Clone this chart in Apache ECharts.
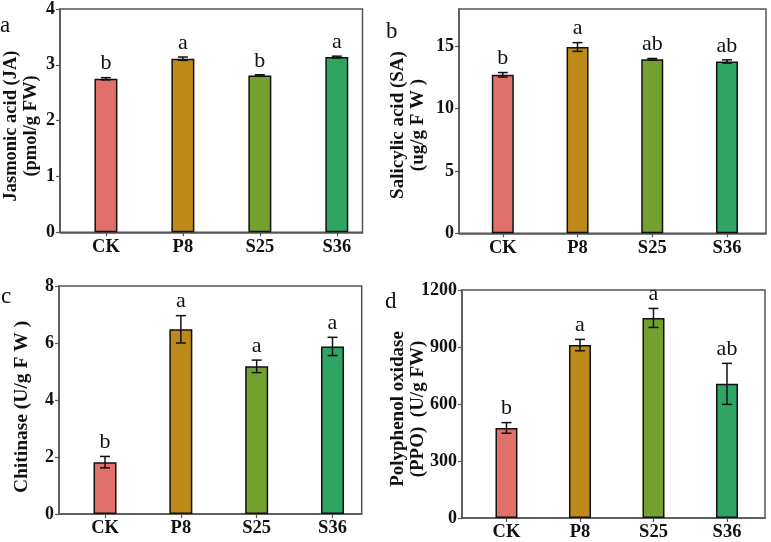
<!DOCTYPE html>
<html>
<head>
<meta charset="utf-8">
<script src="https://cdn.jsdelivr.net/npm/echarts@6/dist/echarts.min.js"></script>
<style>
html,body{margin:0;padding:0;background:#fff;}
#chart{width:771px;height:542px;}
</style>
</head>
<body>
<div id="chart"></div>
<script>
// ---- data ----
const categories = ['CK', 'P8', 'S25', 'S36'];
const barColors = ['#E17068', '#BE8B1A', '#74A030', '#2EA563'];

const jaMean = [2.75, 3.11, 2.81, 3.14];
const jaErr = [0.02, 0.03, 0.012, 0.015];
const jaLetters = ['b', 'a', 'b', 'a'];
const jaTicks = [0, 1, 2, 3, 4];

const saMean = [12.72, 14.95, 13.96, 13.79];
const saErr = [0.18, 0.35, 0.07, 0.13];
const saLetters = ['b', 'a', 'ab', 'ab'];
const saTicks = [0, 5, 10, 15];

const chiMean = [1.82, 6.48, 5.18, 5.88];
const chiErr = [0.2, 0.48, 0.22, 0.32];
const chiLetters = ['b', 'a', 'a', 'a'];
const chiTicks = [0, 2, 4, 6, 8];

const ppoMean = [474, 910, 1053, 706];
const ppoErr = [28, 30, 50, 108];
const ppoLetters = ['b', 'a', 'a', 'ab'];
const ppoTicks = [0, 300, 600, 900, 1200];

// ---- layout / style ----
const FONT = '"Liberation Serif", "Times New Roman", serif';
const AX = '#555';
const INK = '#111';

const panels = [
  {mean: jaMean, err: jaErr, letters: jaLetters, ticks: jaTicks, ymax: 4,
   grid: {left: 60, top: 7, width: 302.5, height: 225.3}, xmin: 0.403, xmax: 4.334, bw: 23},
  {mean: saMean, err: saErr, letters: saLetters, ticks: saTicks, ymax: 18,
   grid: {left: 459, top: 9, width: 307, height: 224.3}, xmin: 0.414, xmax: 4.522, bw: 22},
  {mean: chiMean, err: chiErr, letters: chiLetters, ticks: chiTicks, ymax: 8,
   grid: {left: 59, top: 286, width: 302.7, height: 228}, xmin: 0.393, xmax: 4.385, bw: 23},
  {mean: ppoMean, err: ppoErr, letters: ppoLetters, ticks: ppoTicks, ymax: 1200,
   grid: {left: 462, top: 290, width: 303, height: 229.3}, xmin: 0.395, xmax: 4.517, bw: 22}
];

const grids = [], xAxes = [], yAxes = [], series = [];
const xPos = categories.map((c, i) => i + 1);

panels.forEach((p, k) => {
  grids.push(Object.assign({show: true, borderColor: AX, borderWidth: 1.5, backgroundColor: 'transparent'}, p.grid));
  xAxes.push({
    type: 'value', gridIndex: k, min: p.xmin, max: p.xmax,
    axisLine: {show: true, lineStyle: {color: AX, width: 1.5}},
    axisTick: {show: true, customValues: xPos, length: 4, lineStyle: {color: AX, width: 1.2}},
    axisLabel: {customValues: xPos, formatter: v => categories[Math.round(v) - 1],
      fontFamily: FONT, fontWeight: 'bold', fontSize: 18.5, color: INK, margin: 5},
    splitLine: {show: false}
  });
  yAxes.push({
    type: 'value', gridIndex: k, min: 0, max: p.ymax,
    axisLine: {show: true, lineStyle: {color: AX, width: 1.5}},
    axisTick: {show: true, customValues: p.ticks, length: 4, lineStyle: {color: AX, width: 1.2}},
    axisLabel: {customValues: p.ticks, formatter: v => String(v),
      fontFamily: FONT, fontWeight: 'bold', fontSize: 18, color: INK, margin: 5},
    splitLine: {show: false}
  });
  series.push({
    type: 'bar', xAxisIndex: k, yAxisIndex: k, barWidth: p.bw,
    data: p.mean.map((v, i) => ({value: [xPos[i], v], itemStyle: {color: barColors[i]}})),
    itemStyle: {borderColor: INK, borderWidth: 1.5},
    silent: true
  });
  series.push({
    type: 'custom', xAxisIndex: k, yAxisIndex: k, z: 5,
    data: p.mean.map((v, i) => [xPos[i], v, p.err[i], i]),
    renderItem: function (params, api) {
      const x = api.value(0), y = api.value(1), e = api.value(2), idx = api.value(3);
      const top = api.coord([x, y + e]);
      const bot = api.coord([x, y - e]);
      const cw = 5;
      const ls = {stroke: INK, lineWidth: 1.5};
      return {
        type: 'group',
        children: [
          {type: 'line', shape: {x1: top[0], y1: top[1], x2: bot[0], y2: bot[1]}, style: ls},
          {type: 'line', shape: {x1: top[0] - cw, y1: top[1], x2: top[0] + cw, y2: top[1]}, style: ls},
          {type: 'line', shape: {x1: bot[0] - cw, y1: bot[1], x2: bot[0] + cw, y2: bot[1]}, style: ls},
          {type: 'text', x: top[0], y: top[1] - 3,
           style: {text: p.letters[idx], fill: INK, font: '22px ' + FONT, textAlign: 'center', textVerticalAlign: 'bottom'}}
        ]
      };
    }
  });
});

const titleStyle = (txt, size) => ({text: txt, fill: INK, font: 'bold ' + size + 'px ' + FONT,
  textAlign: 'center', textVerticalAlign: 'middle', lineHeight: 20});
const letterStyle = txt => ({text: txt, fill: INK, font: '23px ' + FONT, textAlign: 'left', textVerticalAlign: 'alphabetic'});

const option = {
  backgroundColor: '#fff',
  animation: false,
  grid: grids, xAxis: xAxes, yAxis: yAxes, series: series,
  graphic: [
    {type: 'text', x: 0, y: 14, style: letterStyle('a')},
    {type: 'text', x: 386, y: 20, style: letterStyle('b')},
    {type: 'text', x: 1, y: 285, style: letterStyle('c')},
    {type: 'text', x: 385, y: 290, style: letterStyle('d')},
    {type: 'text', x: 21, y: 126, rotation: Math.PI / 2, style: titleStyle('Jasmonic acid (JA)\n(pmol/g FW)', 18.5)},
    {type: 'text', x: 408, y: 125, rotation: Math.PI / 2, style: titleStyle('Salicylic acid (SA)\n(ug/g F W )', 19)},
    {type: 'text', x: 22, y: 407, rotation: Math.PI / 2, style: titleStyle('Chitinase (U/g F W )', 19.5)},
    {type: 'text', x: 408, y: 409, rotation: Math.PI / 2, style: titleStyle('Polyphenol oxidase\n(PPO)  (U/g FW)', 19)}
  ]
};

const chart = echarts.init(document.getElementById('chart'), null, {renderer: 'canvas'});
chart.setOption(option);
</script>
</body>
</html>
